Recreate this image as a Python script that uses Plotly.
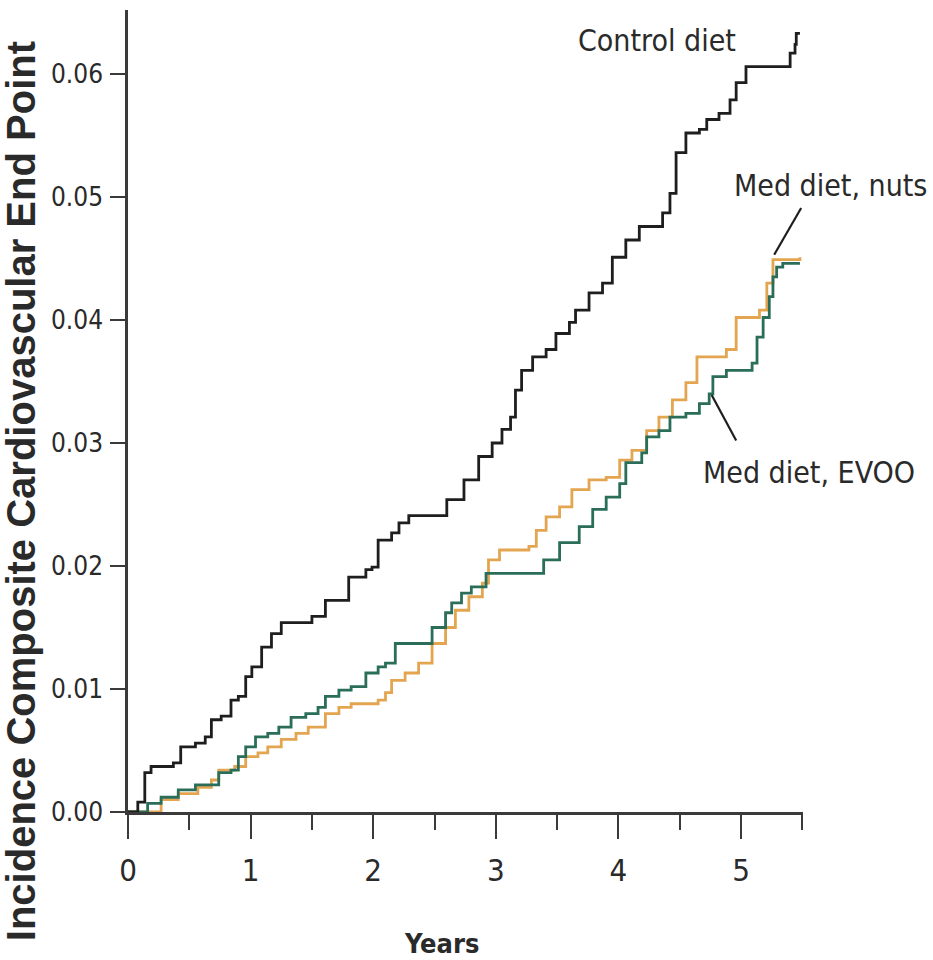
import plotly.graph_objects as go

# ---- data (years, cumulative incidence) ----
control_t = [0, 0.08, 0.137, 0.188, 0.37, 0.43, 0.55, 0.63, 0.68, 0.76, 0.84, 0.90, 0.96, 1.01,
             1.09, 1.17, 1.25, 1.39, 1.50, 1.61, 1.72, 1.80, 1.94, 1.99, 2.04, 2.15, 2.21, 2.29,
             2.56, 2.60, 2.74, 2.86, 2.97, 3.05, 3.12, 3.16, 3.21, 3.30, 3.41, 3.49, 3.60, 3.65,
             3.76, 3.87, 3.95, 4.06, 4.17, 4.32, 4.36, 4.42, 4.47, 4.55, 4.66, 4.72, 4.82, 4.91,
             4.96, 5.04, 5.37, 5.40, 5.44, 5.45, 5.48]
control_v = [0, 0.0008, 0.0032, 0.0037, 0.0040, 0.0053, 0.0056, 0.0061, 0.0075, 0.0078, 0.0091,
             0.0094, 0.0110, 0.0118, 0.0134, 0.0145, 0.0154, 0.0154, 0.0159, 0.0172, 0.0172,
             0.0191, 0.0197, 0.0199, 0.0221, 0.0227, 0.0235, 0.0241, 0.0241, 0.0254, 0.0270,
             0.0289, 0.0300, 0.0311, 0.0321, 0.0343, 0.0359, 0.0370, 0.0376, 0.0389, 0.0398,
             0.0408, 0.0422, 0.0430, 0.0451, 0.0465, 0.0476, 0.0476, 0.0487, 0.0503, 0.0536,
             0.0552, 0.0555, 0.0563, 0.0568, 0.0579, 0.0593, 0.0606, 0.0606, 0.0617, 0.0624,
             0.0633, 0.0633]

evoo_t = [0, 0.16, 0.27, 0.41, 0.55, 0.74, 0.84, 0.90, 0.96, 1.04, 1.14, 1.23, 1.33, 1.45, 1.55,
          1.61, 1.72, 1.82, 1.94, 2.04, 2.10, 2.18, 2.37, 2.48, 2.59, 2.64, 2.72, 2.80, 2.92,
          3.39, 3.52, 3.68, 3.79, 3.90, 4.01, 4.06, 4.19, 4.23, 4.33, 4.42, 4.55, 4.66, 4.74,
          4.77, 4.88, 5.09, 5.13, 5.18, 5.23, 5.26, 5.29, 5.34, 5.48]
evoo_v = [0, 0.0007, 0.0012, 0.0018, 0.0022, 0.0032, 0.0034, 0.0045, 0.0053, 0.0061, 0.0064,
          0.0069, 0.0077, 0.0080, 0.0085, 0.0094, 0.0099, 0.0102, 0.0113, 0.0118, 0.0121,
          0.0137, 0.0137, 0.0150, 0.0162, 0.0170, 0.0178, 0.0183, 0.0194, 0.0205, 0.0219,
          0.0232, 0.0246, 0.0256, 0.0267, 0.0284, 0.0292, 0.0305, 0.0310, 0.0321, 0.0324,
          0.0332, 0.0340, 0.0354, 0.0359, 0.0365, 0.0386, 0.0402, 0.0419, 0.0435, 0.0443,
          0.0446, 0.0446]

nuts_t = [0, 0.19, 0.27, 0.41, 0.57, 0.68, 0.74, 0.87, 0.96, 1.06, 1.14, 1.25, 1.37, 1.47, 1.61,
          1.72, 1.82, 2.04, 2.10, 2.15, 2.26, 2.37, 2.48, 2.59, 2.67, 2.78, 2.89, 2.94, 3.03,
          3.27, 3.33, 3.41, 3.52, 3.62, 3.76, 3.90, 4.01, 4.11, 4.23, 4.33, 4.44, 4.55, 4.64,
          4.88, 4.96, 5.15, 5.21, 5.26, 5.48]
nuts_v = [0, 0.0000, 0.0010, 0.0015, 0.0020, 0.0026, 0.0034, 0.0037, 0.0045, 0.0048, 0.0053,
          0.0059, 0.0064, 0.0069, 0.0080, 0.0085, 0.0088, 0.0091, 0.0097, 0.0107, 0.0113,
          0.0121, 0.0137, 0.0150, 0.0164, 0.0175, 0.0186, 0.0205, 0.0213, 0.0216, 0.0229,
          0.0240, 0.0248, 0.0262, 0.0270, 0.0272, 0.0286, 0.0294, 0.0310, 0.0321, 0.0335,
          0.0349, 0.0370, 0.0376, 0.0402, 0.0408, 0.0430, 0.0449, 0.0451]

x_tickvals = [0, 1, 2, 3, 4, 5]
x_ticktext = ["0", "1", "2", "3", "4", "5"]
y_tickvals = [0, 0.01, 0.02, 0.03, 0.04, 0.05, 0.06]
y_ticktext = ["0.00", "0.01", "0.02", "0.03", "0.04", "0.05", "0.06"]

series_names = ["Med diet, nuts", "Med diet, EVOO", "Control diet"]
x_title = "Years"
y_title = "Incidence Composite Cardiovascular End Point"

NARROW = "DejaVu Sans Condensed, sans-serif"
BOLD = "Liberation Sans, Arial, sans-serif"
AXIS = "#3a3a3a"
TEXT = "#2a2a2a"

fig = go.Figure()
fig.add_trace(go.Scatter(x=nuts_t, y=nuts_v, name=series_names[0], mode="lines",
                         line=dict(color="#e3a54f", width=2.8, shape="hv")))
fig.add_trace(go.Scatter(x=evoo_t, y=evoo_v, name=series_names[1], mode="lines",
                         line=dict(color="#2a6e5a", width=2.8, shape="hv")))
fig.add_trace(go.Scatter(x=control_t, y=control_v, name=series_names[2], mode="lines",
                         line=dict(color="#1e1e1e", width=2.8, shape="hv")))

fig.update_layout(
    width=933, height=960,
    margin=dict(l=128, r=130, t=10, b=148),
    paper_bgcolor="white", plot_bgcolor="white",
    showlegend=False,
    xaxis=dict(range=[0, 5.505], tickvals=x_tickvals, ticktext=x_ticktext,
               ticks="outside", ticklen=24, tickwidth=2, tickcolor=AXIS,
               showline=True, linecolor=AXIS, linewidth=2.5, showgrid=False, zeroline=False,
               tickfont=dict(family=NARROW, size=31, color=TEXT), ticklabelstandoff=5,
               minor=dict(dtick=0.5, tick0=0, ticks="outside", ticklen=15, tickwidth=2,
                          tickcolor=AXIS, showgrid=False)),
    yaxis=dict(range=[0, 0.0652], tickvals=y_tickvals, ticktext=y_ticktext,
               ticks="outside", ticklen=15, tickwidth=2, tickcolor=AXIS,
               showline=True, linecolor=AXIS, linewidth=2.5, showgrid=False, zeroline=False,
               tickfont=dict(family=NARROW, size=26, color=TEXT), ticklabelstandoff=2),
    annotations=[
        dict(text="<b>" + y_title + "</b>", textangle=-90, xref="paper", yref="paper",
             x=(21 - 128) / 675, y=0.40, xanchor="center", yanchor="middle", showarrow=False,
             font=dict(family=BOLD, size=40, color=TEXT)),
        dict(text="<b>" + x_title + "</b>", xref="paper", yref="paper",
             x=(441 - 128) / 675, y=-(943 - 812) / 802, xanchor="center", yanchor="middle",
             showarrow=False, font=dict(family=NARROW, size=27, color=TEXT)),
        dict(text=series_names[2], xref="paper", yref="paper", x=(657 - 128) / 675,
             y=(812 - 40) / 802, xanchor="center", yanchor="middle", showarrow=False,
             font=dict(family=NARROW, size=30, color=TEXT)),
        dict(text=series_names[0], xref="paper", yref="paper", x=(830 - 128) / 675,
             y=(812 - 185) / 802, xanchor="center", yanchor="middle", showarrow=False,
             font=dict(family=NARROW, size=30, color=TEXT)),
        dict(text=series_names[1], xref="paper", yref="paper", x=(809 - 128) / 675,
             y=(812 - 472) / 802, xanchor="center", yanchor="middle", showarrow=False,
             font=dict(family=NARROW, size=30, color=TEXT)),
    ],
    shapes=[
        dict(type="line", xref="x", yref="y", x0=5.27, y0=0.0453, x1=5.49, y1=0.0491,
             line=dict(color="#1e1e1e", width=2.2)),
        dict(type="line", xref="x", yref="y", x0=4.76, y0=0.0339, x1=4.96, y1=0.0302,
             line=dict(color="#1e1e1e", width=2.2)),
    ],
)

fig.write_html("out.html", config={"displayModeBar": False},
               post_script="document.body.style.margin='0';")
